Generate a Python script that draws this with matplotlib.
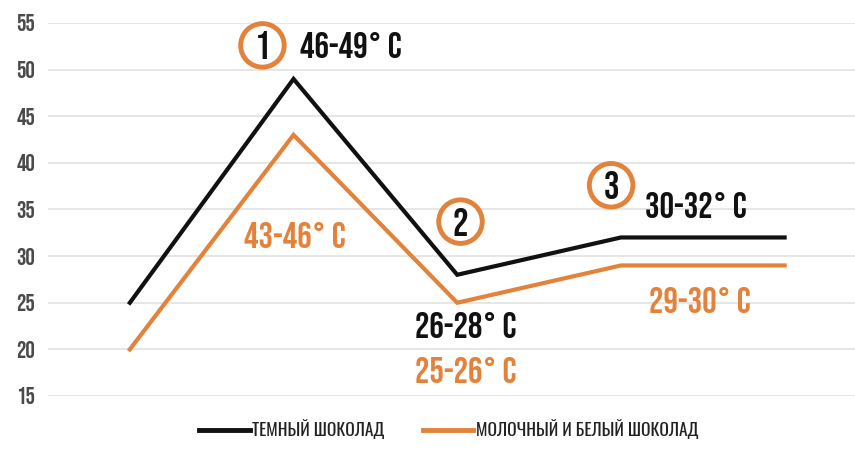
import matplotlib.pyplot as plt
from matplotlib.lines import Line2D

# Chocolate tempering curve: melt, cool, working temperature
stages = [0, 1, 2, 3, 4]
dark = [25, 49, 28, 32, 32]
milk_white = [20, 43, 25, 29, 29]
series_names = ["ТЕМНЫЙ ШОКОЛАД", "МОЛОЧНЫЙ И БЕЛЫЙ ШОКОЛАД"]
yticks = [15, 20, 25, 30, 35, 40, 45, 50, 55]

# (step number, x, y) for circled markers, (text, x, y, series) for ranges
steps = [("1", 0.81, 52.6), ("2", 2.02, 33.7), ("3", 2.94, 37.6)]
ranges = [("46-49° C", 1.04, 52.6, 0), ("43-46° C", 0.70, 32.3, 1),
          ("26-28° C", 1.74, 22.6, 0), ("25-26° C", 1.74, 17.8, 1),
          ("30-32° C", 3.15, 35.5, 0), ("29-30° C", 3.17, 25.3, 1)]

BLACK = "#111111"
ORANGE = "#E3823A"
colors = [BLACK, ORANGE]
FONT = ["Bebas Neue", "DejaVu Sans"]
LEGEND_FONT = ["Oswald", "Roboto Condensed", "DejaVu Sans"]
plt.rcParams["font.family"] = FONT

fig = plt.figure(figsize=(8.55, 4.5), dpi=100)
ax = fig.add_axes([48 / 855, 54 / 450, 807 / 855, 373 / 450])

ax.plot(stages, dark, color=BLACK, lw=3, solid_joinstyle="miter", clip_on=False)
ax.plot(stages, milk_white, color=ORANGE, lw=3, solid_joinstyle="miter", clip_on=False)

ax.set_xlim(-0.5, 4.43)
ax.set_ylim(15, 55)
ax.set_yticks(yticks)
ax.set_xticks([])
ax.grid(axis="y", color="#e2e2e2", lw=1.2)
ax.set_axisbelow(True)
for s in ax.spines.values():
    s.set_visible(False)
ax.tick_params(axis="y", length=0, pad=16, labelsize=17, labelcolor="#4a4a4a")
for lbl in ax.get_yticklabels():
    lbl.set_horizontalalignment("center")

for num, x, y in steps:
    ax.text(x, y, num, ha="center", va="center", fontsize=28,
            color=BLACK,
            bbox=dict(boxstyle="circle,pad=0.2", fc="white", ec=ORANGE, lw=3.5))

for txt, x, y, k in ranges:
    ax.text(x, y, txt, ha="left", va="center", fontsize=26, color=colors[k])

handles = [Line2D([], [], color=c, lw=3.5) for c in colors]
leg = fig.legend(handles, series_names, loc="lower center", ncol=2,
                 bbox_to_anchor=(0.525, -0.01), frameon=False,
                 handlelength=2.9, handletextpad=0.15, columnspacing=2.2,
                 prop=dict(family=LEGEND_FONT, size=12.5))
for t in leg.get_texts():
    t.set_color("#222222")

fig.savefig("out.png", dpi=100)
